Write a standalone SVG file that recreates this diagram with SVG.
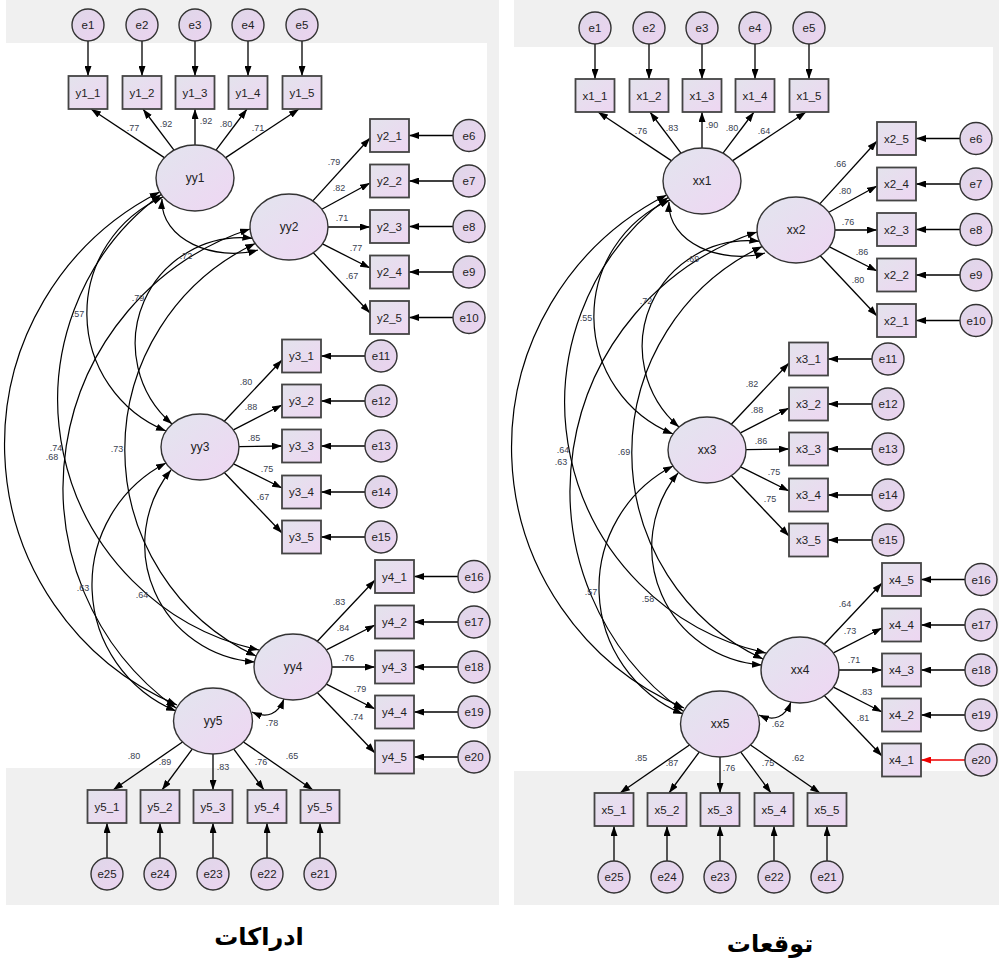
<svg xmlns="http://www.w3.org/2000/svg" width="999" height="961" viewBox="0 0 999 961">
<defs>
<linearGradient id="gL" x1="0" y1="0" x2="1" y2="1"><stop offset="0" stop-color="#e2e5ee"/><stop offset="1" stop-color="#efd6f3"/></linearGradient>
<linearGradient id="gO" x1="0" y1="0" x2="1" y2="1"><stop offset="0" stop-color="#e3e3ec"/><stop offset="1" stop-color="#eed6f2"/></linearGradient>
<linearGradient id="gE" x1="0" y1="0" x2="1" y2="1"><stop offset="0" stop-color="#ded7e8"/><stop offset="1" stop-color="#ecd3f0"/></linearGradient>
<marker id="ah" viewBox="0 0 10 7" refX="10" refY="3.5" markerWidth="10" markerHeight="7" markerUnits="userSpaceOnUse" orient="auto-start-reverse"><path d="M0,0 L10,3.5 L0,7 z" fill="#000"/></marker>
<marker id="ahr" viewBox="0 0 10 7" refX="10" refY="3.5" markerWidth="10" markerHeight="7" markerUnits="userSpaceOnUse" orient="auto-start-reverse"><path d="M0,0 L10,3.5 L0,7 z" fill="#ee0000"/></marker>
</defs>
<style>
.lat{fill:url(#gL);stroke:#333;stroke-width:1.4}
.obs{fill:url(#gO);stroke:#444;stroke-width:1.8}
.err{fill:url(#gE);stroke:#333;stroke-width:1.4}
.t{font-family:"Liberation Sans",Arial,sans-serif;font-size:11.5px;fill:#222;text-anchor:middle}
.tl{font-family:"Liberation Sans",Arial,sans-serif;font-size:12px;fill:#222;text-anchor:middle}
.w{font-family:"Liberation Sans",Arial,sans-serif;font-size:9px;fill:#39414f;text-anchor:middle}
.c{fill:none;stroke:#000;stroke-width:1.3;marker-end:url(#ah)}
.cr{fill:none;stroke:#ee0000;stroke-width:1.5;marker-end:url(#ahr)}
.cov{fill:none;stroke:#000;stroke-width:1.2;marker-start:url(#ah);marker-end:url(#ah)}
.ttl{font-family:"DejaVu Sans",sans-serif;font-weight:bold;font-size:24px;fill:#000;text-anchor:middle}
</style>
<rect x="0" y="0" width="999" height="961" fill="#fff"/>
<rect x="6" y="0" width="493" height="905" fill="#f0f0f0"/>
<rect x="6" y="43" width="481" height="725" fill="#fff"/>
<rect x="514" y="0" width="485" height="905" fill="#f0f0f0"/>
<rect x="514" y="47" width="479" height="724" fill="#fff"/>

<!-- LEFT PANEL -->
<g id="left">
<g id="L-connectors">
<path class="c" d="M88 41V76"/><path class="c" d="M142 41V76"/><path class="c" d="M195 41V76"/><path class="c" d="M248 41V76"/><path class="c" d="M302 41V76"/>
<path class="c" d="M164.3 157.6L91 109"/><path class="c" d="M174 150.2L143 109"/><path class="c" d="M195 145L195 109"/><path class="c" d="M216 150.2L247 109"/><path class="c" d="M225.7 157.6L299 109"/>
<path class="c" d="M312.8 200.9L370 138"/><path class="c" d="M321.8 209.2L370 183"/><path class="c" d="M328 227L370 227"/><path class="c" d="M322.5 243.9L370 268"/><path class="c" d="M313.3 252.8L370 313"/>
<path class="c" d="M453 135.5H409"/><path class="c" d="M453 181H409"/><path class="c" d="M453 226.5H409"/><path class="c" d="M453 272H409"/><path class="c" d="M453 317.5H409"/>
<path class="c" d="M224.3 421.2L282 360"/><path class="c" d="M233.4 429.9L282 405"/><path class="c" d="M239 446.6L282 446"/><path class="c" d="M233.6 463.8L282 488"/><path class="c" d="M224.5 472.7L282 533"/>
<path class="c" d="M365 356H321"/><path class="c" d="M365 401H321"/><path class="c" d="M365 446H321"/><path class="c" d="M365 492H321"/><path class="c" d="M365 537H321"/>
<path class="c" d="M317.3 641.2L375 580"/><path class="c" d="M326.4 649.9L375 625"/><path class="c" d="M332 667L375 667"/><path class="c" d="M326.4 684.1L375 709"/><path class="c" d="M317.5 692.7L375 753"/>
<path class="c" d="M458 576.5H414"/><path class="c" d="M458 622H414"/><path class="c" d="M458 667H414"/><path class="c" d="M458 712H414"/><path class="c" d="M458 757H414"/>
<path class="c" d="M182.5 742L113 790"/><path class="c" d="M192.2 749.1L162 790"/><path class="c" d="M213 754L213 790"/><path class="c" d="M233.8 749.1L264 790"/><path class="c" d="M243.5 742L313 790"/>
<path class="c" d="M107 858V823"/><path class="c" d="M160 858V823"/><path class="c" d="M213 858V823"/><path class="c" d="M267 858V823"/><path class="c" d="M320 858V823"/>
<path class="cov" d="M159.7 192A283 283 0 0 0 177 705"/>
<path class="cov" d="M161 194.5A256 256 0 0 0 259 650"/>
<path class="cov" d="M250 229A272 272 0 0 0 176 708"/>
<path class="cov" d="M163 197A127 127 0 0 0 166 431"/>
<path class="cov" d="M252.4 238.3A106 106 0 0 0 172 424"/>
<path class="cov" d="M255.2 243.5A228 228 0 0 0 256 656"/>
<path class="cov" d="M171 470A118 118 0 0 0 255 662"/>
<path class="cov" d="M166 463A137 137 0 0 0 176 711"/>
<path class="cov" d="M162 199C160 240 215 262 258 250"/>
<path class="cov" d="M252 712Q275 722 284 699"/>
</g>
<g id="L-labels">
<text class="w" x="133" y="131">.77</text><text class="w" x="166" y="127">.92</text><text class="w" x="206" y="124">.92</text><text class="w" x="226" y="127">.80</text><text class="w" x="258" y="131">.71</text>
<text class="w" x="334" y="165">.79</text><text class="w" x="339" y="191">.82</text><text class="w" x="342" y="221">.71</text><text class="w" x="356" y="251">.77</text><text class="w" x="352" y="279">.67</text>
<text class="w" x="246" y="385">.80</text><text class="w" x="251" y="410">.88</text><text class="w" x="254" y="441">.85</text><text class="w" x="267" y="472">.75</text><text class="w" x="263" y="500">.67</text>
<text class="w" x="339" y="605">.83</text><text class="w" x="343" y="631">.84</text><text class="w" x="348" y="661">.76</text><text class="w" x="360" y="692">.79</text><text class="w" x="357" y="720">.74</text>
<text class="w" x="134" y="759">.80</text><text class="w" x="165" y="765">.89</text><text class="w" x="223" y="770">.83</text><text class="w" x="261" y="765">.76</text><text class="w" x="292" y="759">.65</text>
<text class="w" x="272" y="726">.78</text>
<text class="w" x="186" y="259">.72</text><text class="w" x="138" y="301">.79</text><text class="w" x="78" y="317">.57</text><text class="w" x="56" y="451">.74</text><text class="w" x="52" y="460">.68</text><text class="w" x="117" y="452">.73</text><text class="w" x="83" y="591">.63</text><text class="w" x="142" y="598">.64</text>
</g>
<g id="L-e1"><circle class="err" cx="88" cy="25" r="16"/><text class="t" x="88" y="29">e1</text></g>
<g id="L-e2"><circle class="err" cx="142" cy="25" r="16"/><text class="t" x="142" y="29">e2</text></g>
<g id="L-e3"><circle class="err" cx="195" cy="25" r="16"/><text class="t" x="195" y="29">e3</text></g>
<g id="L-e4"><circle class="err" cx="248" cy="25" r="16"/><text class="t" x="248" y="29">e4</text></g>
<g id="L-e5"><circle class="err" cx="302" cy="25" r="16"/><text class="t" x="302" y="29">e5</text></g>
<g id="L-y1_1"><rect class="obs" x="68.5" y="76" width="39" height="33"/><text class="t" x="88" y="96.5">y1_1</text></g>
<g id="L-y1_2"><rect class="obs" x="122.5" y="76" width="39" height="33"/><text class="t" x="142" y="96.5">y1_2</text></g>
<g id="L-y1_3"><rect class="obs" x="175.5" y="76" width="39" height="33"/><text class="t" x="195" y="96.5">y1_3</text></g>
<g id="L-y1_4"><rect class="obs" x="228.5" y="76" width="39" height="33"/><text class="t" x="248" y="96.5">y1_4</text></g>
<g id="L-y1_5"><rect class="obs" x="282.5" y="76" width="39" height="33"/><text class="t" x="302" y="96.5">y1_5</text></g>
<g id="L-yy1"><ellipse class="lat" cx="195" cy="178" rx="39" ry="33"/><text class="tl" x="195" y="182">yy1</text></g>
<g id="L-yy2"><ellipse class="lat" cx="289" cy="227" rx="39" ry="33"/><text class="tl" x="289" y="231">yy2</text></g>
<g id="L-y2_1"><rect class="obs" x="370" y="119" width="39" height="33"/><text class="t" x="389.5" y="139.5">y2_1</text></g>
<g id="L-y2_2"><rect class="obs" x="370" y="164.5" width="39" height="33"/><text class="t" x="389.5" y="185">y2_2</text></g>
<g id="L-y2_3"><rect class="obs" x="370" y="210" width="39" height="33"/><text class="t" x="389.5" y="230.5">y2_3</text></g>
<g id="L-y2_4"><rect class="obs" x="370" y="255.5" width="39" height="33"/><text class="t" x="389.5" y="276">y2_4</text></g>
<g id="L-y2_5"><rect class="obs" x="370" y="301" width="39" height="33"/><text class="t" x="389.5" y="321.5">y2_5</text></g>
<g id="L-e6"><circle class="err" cx="469" cy="135.5" r="16"/><text class="t" x="469" y="139.5">e6</text></g>
<g id="L-e7"><circle class="err" cx="469" cy="181" r="16"/><text class="t" x="469" y="185">e7</text></g>
<g id="L-e8"><circle class="err" cx="469" cy="226.5" r="16"/><text class="t" x="469" y="230.5">e8</text></g>
<g id="L-e9"><circle class="err" cx="469" cy="272" r="16"/><text class="t" x="469" y="276">e9</text></g>
<g id="L-e10"><circle class="err" cx="469" cy="317.5" r="16"/><text class="t" x="469" y="321.5">e10</text></g>
<g id="L-yy3"><ellipse class="lat" cx="200" cy="447" rx="39" ry="33"/><text class="tl" x="200" y="451">yy3</text></g>
<g id="L-y3_1"><rect class="obs" x="282" y="339.5" width="39" height="33"/><text class="t" x="301.5" y="360">y3_1</text></g>
<g id="L-y3_2"><rect class="obs" x="282" y="384.5" width="39" height="33"/><text class="t" x="301.5" y="405">y3_2</text></g>
<g id="L-y3_3"><rect class="obs" x="282" y="429.5" width="39" height="33"/><text class="t" x="301.5" y="450">y3_3</text></g>
<g id="L-y3_4"><rect class="obs" x="282" y="475.5" width="39" height="33"/><text class="t" x="301.5" y="496">y3_4</text></g>
<g id="L-y3_5"><rect class="obs" x="282" y="520.5" width="39" height="33"/><text class="t" x="301.5" y="541">y3_5</text></g>
<g id="L-e11"><circle class="err" cx="381" cy="356" r="16"/><text class="t" x="381" y="360">e11</text></g>
<g id="L-e12"><circle class="err" cx="381" cy="401" r="16"/><text class="t" x="381" y="405">e12</text></g>
<g id="L-e13"><circle class="err" cx="381" cy="446" r="16"/><text class="t" x="381" y="450">e13</text></g>
<g id="L-e14"><circle class="err" cx="381" cy="492" r="16"/><text class="t" x="381" y="496">e14</text></g>
<g id="L-e15"><circle class="err" cx="381" cy="537" r="16"/><text class="t" x="381" y="541">e15</text></g>
<g id="L-yy4"><ellipse class="lat" cx="293" cy="667" rx="39" ry="33"/><text class="tl" x="293" y="671">yy4</text></g>
<g id="L-y4_1"><rect class="obs" x="375" y="560" width="39" height="33"/><text class="t" x="394.5" y="580.5">y4_1</text></g>
<g id="L-y4_2"><rect class="obs" x="375" y="605.5" width="39" height="33"/><text class="t" x="394.5" y="626">y4_2</text></g>
<g id="L-y4_3"><rect class="obs" x="375" y="650.5" width="39" height="33"/><text class="t" x="394.5" y="671">y4_3</text></g>
<g id="L-y4_4"><rect class="obs" x="375" y="695.5" width="39" height="33"/><text class="t" x="394.5" y="716">y4_4</text></g>
<g id="L-y4_5"><rect class="obs" x="375" y="740.5" width="39" height="33"/><text class="t" x="394.5" y="761">y4_5</text></g>
<g id="L-e16"><circle class="err" cx="474" cy="576.5" r="16"/><text class="t" x="474" y="580.5">e16</text></g>
<g id="L-e17"><circle class="err" cx="474" cy="622" r="16"/><text class="t" x="474" y="626">e17</text></g>
<g id="L-e18"><circle class="err" cx="474" cy="667" r="16"/><text class="t" x="474" y="671">e18</text></g>
<g id="L-e19"><circle class="err" cx="474" cy="712" r="16"/><text class="t" x="474" y="716">e19</text></g>
<g id="L-e20"><circle class="err" cx="474" cy="757" r="16"/><text class="t" x="474" y="761">e20</text></g>
<g id="L-yy5"><ellipse class="lat" cx="213" cy="721" rx="39.5" ry="33"/><text class="tl" x="213" y="725">yy5</text></g>
<g id="L-y5_1"><rect class="obs" x="87.5" y="790" width="39" height="33"/><text class="t" x="107" y="810.5">y5_1</text></g>
<g id="L-y5_2"><rect class="obs" x="140.5" y="790" width="39" height="33"/><text class="t" x="160" y="810.5">y5_2</text></g>
<g id="L-y5_3"><rect class="obs" x="193.5" y="790" width="39" height="33"/><text class="t" x="213" y="810.5">y5_3</text></g>
<g id="L-y5_4"><rect class="obs" x="247.5" y="790" width="39" height="33"/><text class="t" x="267" y="810.5">y5_4</text></g>
<g id="L-y5_5"><rect class="obs" x="300.5" y="790" width="39" height="33"/><text class="t" x="320" y="810.5">y5_5</text></g>
<g id="L-e25"><circle class="err" cx="107" cy="874" r="16"/><text class="t" x="107" y="878">e25</text></g>
<g id="L-e24"><circle class="err" cx="160" cy="874" r="16"/><text class="t" x="160" y="878">e24</text></g>
<g id="L-e23"><circle class="err" cx="213" cy="874" r="16"/><text class="t" x="213" y="878">e23</text></g>
<g id="L-e22"><circle class="err" cx="267" cy="874" r="16"/><text class="t" x="267" y="878">e22</text></g>
<g id="L-e21"><circle class="err" cx="320" cy="874" r="16"/><text class="t" x="320" y="878">e21</text></g>
</g>

<!-- RIGHT PANEL -->
<g id="right" transform="translate(507,3)">
<g id="R-connectors">
<path class="c" d="M88 41V76"/><path class="c" d="M142 41V76"/><path class="c" d="M195 41V76"/><path class="c" d="M248 41V76"/><path class="c" d="M302 41V76"/>
<path class="c" d="M164.3 157.6L91 109"/><path class="c" d="M174 150.2L143 109"/><path class="c" d="M195 145L195 109"/><path class="c" d="M216 150.2L247 109"/><path class="c" d="M225.7 157.6L299 109"/>
<path class="c" d="M312.8 200.9L370 138"/><path class="c" d="M321.8 209.2L370 183"/><path class="c" d="M328 227L370 227"/><path class="c" d="M322.5 243.9L370 268"/><path class="c" d="M313.3 252.8L370 313"/>
<path class="c" d="M453 135.5H409"/><path class="c" d="M453 181H409"/><path class="c" d="M453 226.5H409"/><path class="c" d="M453 272H409"/><path class="c" d="M453 317.5H409"/>
<path class="c" d="M224.3 421.2L282 360"/><path class="c" d="M233.4 429.9L282 405"/><path class="c" d="M239 446.6L282 446"/><path class="c" d="M233.6 463.8L282 488"/><path class="c" d="M224.5 472.7L282 533"/>
<path class="c" d="M365 356H321"/><path class="c" d="M365 401H321"/><path class="c" d="M365 446H321"/><path class="c" d="M365 492H321"/><path class="c" d="M365 537H321"/>
<path class="c" d="M317.3 641.2L375 580"/><path class="c" d="M326.4 649.9L375 625"/><path class="c" d="M332 667L375 667"/><path class="c" d="M326.4 684.1L375 709"/><path class="c" d="M317.5 692.7L375 753"/>
<path class="c" d="M458 576.5H414"/><path class="c" d="M458 622H414"/><path class="c" d="M458 667H414"/><path class="c" d="M458 712H414"/><path class="cr" d="M458 757H414"/>
<path class="c" d="M182.5 742L113 790"/><path class="c" d="M192.2 749.1L162 790"/><path class="c" d="M213 754L213 790"/><path class="c" d="M233.8 749.1L264 790"/><path class="c" d="M243.5 742L313 790"/>
<path class="c" d="M107 858V823"/><path class="c" d="M160 858V823"/><path class="c" d="M213 858V823"/><path class="c" d="M267 858V823"/><path class="c" d="M320 858V823"/>
<path class="cov" d="M159.7 192A283 283 0 0 0 177 705"/>
<path class="cov" d="M161 194.5A256 256 0 0 0 259 650"/>
<path class="cov" d="M250 229A272 272 0 0 0 176 708"/>
<path class="cov" d="M163 197A127 127 0 0 0 166 431"/>
<path class="cov" d="M252.4 238.3A106 106 0 0 0 172 424"/>
<path class="cov" d="M255.2 243.5A228 228 0 0 0 256 656"/>
<path class="cov" d="M171 470A118 118 0 0 0 255 662"/>
<path class="cov" d="M166 463A137 137 0 0 0 176 711"/>
<path class="cov" d="M162 199C160 240 215 262 258 250"/>
<path class="cov" d="M252 712Q275 722 284 699"/>
</g>
<g id="R-labels">
<text class="w" x="134" y="131">.76</text><text class="w" x="165" y="128">.83</text><text class="w" x="205" y="125">.90</text><text class="w" x="225" y="128">.80</text><text class="w" x="257" y="131">.64</text>
<text class="w" x="333" y="164">.66</text><text class="w" x="338" y="191">.80</text><text class="w" x="341" y="222">.76</text><text class="w" x="355" y="252">.86</text><text class="w" x="351" y="280">.80</text>
<text class="w" x="245" y="384">.82</text><text class="w" x="250" y="410">.88</text><text class="w" x="254" y="441">.86</text><text class="w" x="267" y="472">.75</text><text class="w" x="263" y="499">.75</text>
<text class="w" x="338" y="604">.64</text><text class="w" x="343" y="631">.73</text><text class="w" x="347" y="660">.71</text><text class="w" x="359" y="692">.83</text><text class="w" x="356" y="718">.81</text>
<text class="w" x="134" y="758">.85</text><text class="w" x="165" y="763">.87</text><text class="w" x="222" y="768">.76</text><text class="w" x="261" y="763">.75</text><text class="w" x="291" y="758">.62</text>
<text class="w" x="271" y="724">.62</text>
<text class="w" x="186" y="259">.69</text><text class="w" x="139" y="301">.72</text><text class="w" x="79" y="318">.55</text><text class="w" x="56" y="450">.64</text><text class="w" x="54" y="462">.63</text><text class="w" x="117" y="452">.69</text><text class="w" x="84" y="592">.57</text><text class="w" x="141" y="599">.58</text>
</g>
<g id="R-e1"><circle class="err" cx="88" cy="25" r="16"/><text class="t" x="88" y="29">e1</text></g>
<g id="R-e2"><circle class="err" cx="142" cy="25" r="16"/><text class="t" x="142" y="29">e2</text></g>
<g id="R-e3"><circle class="err" cx="195" cy="25" r="16"/><text class="t" x="195" y="29">e3</text></g>
<g id="R-e4"><circle class="err" cx="248" cy="25" r="16"/><text class="t" x="248" y="29">e4</text></g>
<g id="R-e5"><circle class="err" cx="302" cy="25" r="16"/><text class="t" x="302" y="29">e5</text></g>
<g id="R-x1_1"><rect class="obs" x="68.5" y="76" width="39" height="33"/><text class="t" x="88" y="96.5">x1_1</text></g>
<g id="R-x1_2"><rect class="obs" x="122.5" y="76" width="39" height="33"/><text class="t" x="142" y="96.5">x1_2</text></g>
<g id="R-x1_3"><rect class="obs" x="175.5" y="76" width="39" height="33"/><text class="t" x="195" y="96.5">x1_3</text></g>
<g id="R-x1_4"><rect class="obs" x="228.5" y="76" width="39" height="33"/><text class="t" x="248" y="96.5">x1_4</text></g>
<g id="R-x1_5"><rect class="obs" x="282.5" y="76" width="39" height="33"/><text class="t" x="302" y="96.5">x1_5</text></g>
<g id="R-xx1"><ellipse class="lat" cx="195" cy="178" rx="39" ry="33"/><text class="tl" x="195" y="182">xx1</text></g>
<g id="R-xx2"><ellipse class="lat" cx="289" cy="227" rx="39" ry="33"/><text class="tl" x="289" y="231">xx2</text></g>
<g id="R-x2_5"><rect class="obs" x="370" y="119" width="39" height="33"/><text class="t" x="389.5" y="139.5">x2_5</text></g>
<g id="R-x2_4"><rect class="obs" x="370" y="164.5" width="39" height="33"/><text class="t" x="389.5" y="185">x2_4</text></g>
<g id="R-x2_3"><rect class="obs" x="370" y="210" width="39" height="33"/><text class="t" x="389.5" y="230.5">x2_3</text></g>
<g id="R-x2_2"><rect class="obs" x="370" y="255.5" width="39" height="33"/><text class="t" x="389.5" y="276">x2_2</text></g>
<g id="R-x2_1"><rect class="obs" x="370" y="301" width="39" height="33"/><text class="t" x="389.5" y="321.5">x2_1</text></g>
<g id="R-e6"><circle class="err" cx="469" cy="135.5" r="16"/><text class="t" x="469" y="139.5">e6</text></g>
<g id="R-e7"><circle class="err" cx="469" cy="181" r="16"/><text class="t" x="469" y="185">e7</text></g>
<g id="R-e8"><circle class="err" cx="469" cy="226.5" r="16"/><text class="t" x="469" y="230.5">e8</text></g>
<g id="R-e9"><circle class="err" cx="469" cy="272" r="16"/><text class="t" x="469" y="276">e9</text></g>
<g id="R-e10"><circle class="err" cx="469" cy="317.5" r="16"/><text class="t" x="469" y="321.5">e10</text></g>
<g id="R-xx3"><ellipse class="lat" cx="200" cy="447" rx="39" ry="33"/><text class="tl" x="200" y="451">xx3</text></g>
<g id="R-x3_1"><rect class="obs" x="282" y="339.5" width="39" height="33"/><text class="t" x="301.5" y="360">x3_1</text></g>
<g id="R-x3_2"><rect class="obs" x="282" y="384.5" width="39" height="33"/><text class="t" x="301.5" y="405">x3_2</text></g>
<g id="R-x3_3"><rect class="obs" x="282" y="429.5" width="39" height="33"/><text class="t" x="301.5" y="450">x3_3</text></g>
<g id="R-x3_4"><rect class="obs" x="282" y="475.5" width="39" height="33"/><text class="t" x="301.5" y="496">x3_4</text></g>
<g id="R-x3_5"><rect class="obs" x="282" y="520.5" width="39" height="33"/><text class="t" x="301.5" y="541">x3_5</text></g>
<g id="R-e11"><circle class="err" cx="381" cy="356" r="16"/><text class="t" x="381" y="360">e11</text></g>
<g id="R-e12"><circle class="err" cx="381" cy="401" r="16"/><text class="t" x="381" y="405">e12</text></g>
<g id="R-e13"><circle class="err" cx="381" cy="446" r="16"/><text class="t" x="381" y="450">e13</text></g>
<g id="R-e14"><circle class="err" cx="381" cy="492" r="16"/><text class="t" x="381" y="496">e14</text></g>
<g id="R-e15"><circle class="err" cx="381" cy="537" r="16"/><text class="t" x="381" y="541">e15</text></g>
<g id="R-xx4"><ellipse class="lat" cx="293" cy="667" rx="39" ry="33"/><text class="tl" x="293" y="671">xx4</text></g>
<g id="R-x4_5"><rect class="obs" x="375" y="560" width="39" height="33"/><text class="t" x="394.5" y="580.5">x4_5</text></g>
<g id="R-x4_4"><rect class="obs" x="375" y="605.5" width="39" height="33"/><text class="t" x="394.5" y="626">x4_4</text></g>
<g id="R-x4_3"><rect class="obs" x="375" y="650.5" width="39" height="33"/><text class="t" x="394.5" y="671">x4_3</text></g>
<g id="R-x4_2"><rect class="obs" x="375" y="695.5" width="39" height="33"/><text class="t" x="394.5" y="716">x4_2</text></g>
<g id="R-x4_1"><rect class="obs" x="375" y="740.5" width="39" height="33"/><text class="t" x="394.5" y="761">x4_1</text></g>
<g id="R-e16"><circle class="err" cx="474" cy="576.5" r="16"/><text class="t" x="474" y="580.5">e16</text></g>
<g id="R-e17"><circle class="err" cx="474" cy="622" r="16"/><text class="t" x="474" y="626">e17</text></g>
<g id="R-e18"><circle class="err" cx="474" cy="667" r="16"/><text class="t" x="474" y="671">e18</text></g>
<g id="R-e19"><circle class="err" cx="474" cy="712" r="16"/><text class="t" x="474" y="716">e19</text></g>
<g id="R-e20"><circle class="err" cx="474" cy="757" r="16"/><text class="t" x="474" y="761">e20</text></g>
<g id="R-xx5"><ellipse class="lat" cx="213" cy="721" rx="39.5" ry="33"/><text class="tl" x="213" y="725">xx5</text></g>
<g id="R-x5_1"><rect class="obs" x="87.5" y="790" width="39" height="33"/><text class="t" x="107" y="810.5">x5_1</text></g>
<g id="R-x5_2"><rect class="obs" x="140.5" y="790" width="39" height="33"/><text class="t" x="160" y="810.5">x5_2</text></g>
<g id="R-x5_3"><rect class="obs" x="193.5" y="790" width="39" height="33"/><text class="t" x="213" y="810.5">x5_3</text></g>
<g id="R-x5_4"><rect class="obs" x="247.5" y="790" width="39" height="33"/><text class="t" x="267" y="810.5">x5_4</text></g>
<g id="R-x5_5"><rect class="obs" x="300.5" y="790" width="39" height="33"/><text class="t" x="320" y="810.5">x5_5</text></g>
<g id="R-e25"><circle class="err" cx="107" cy="874" r="16"/><text class="t" x="107" y="878">e25</text></g>
<g id="R-e24"><circle class="err" cx="160" cy="874" r="16"/><text class="t" x="160" y="878">e24</text></g>
<g id="R-e23"><circle class="err" cx="213" cy="874" r="16"/><text class="t" x="213" y="878">e23</text></g>
<g id="R-e22"><circle class="err" cx="267" cy="874" r="16"/><text class="t" x="267" y="878">e22</text></g>
<g id="R-e21"><circle class="err" cx="320" cy="874" r="16"/><text class="t" x="320" y="878">e21</text></g>
</g>

<g id="titles">
<text class="ttl" x="259" y="945">ادراکات</text>
<text class="ttl" x="770" y="952">توقعات</text>
</g>
</svg>
